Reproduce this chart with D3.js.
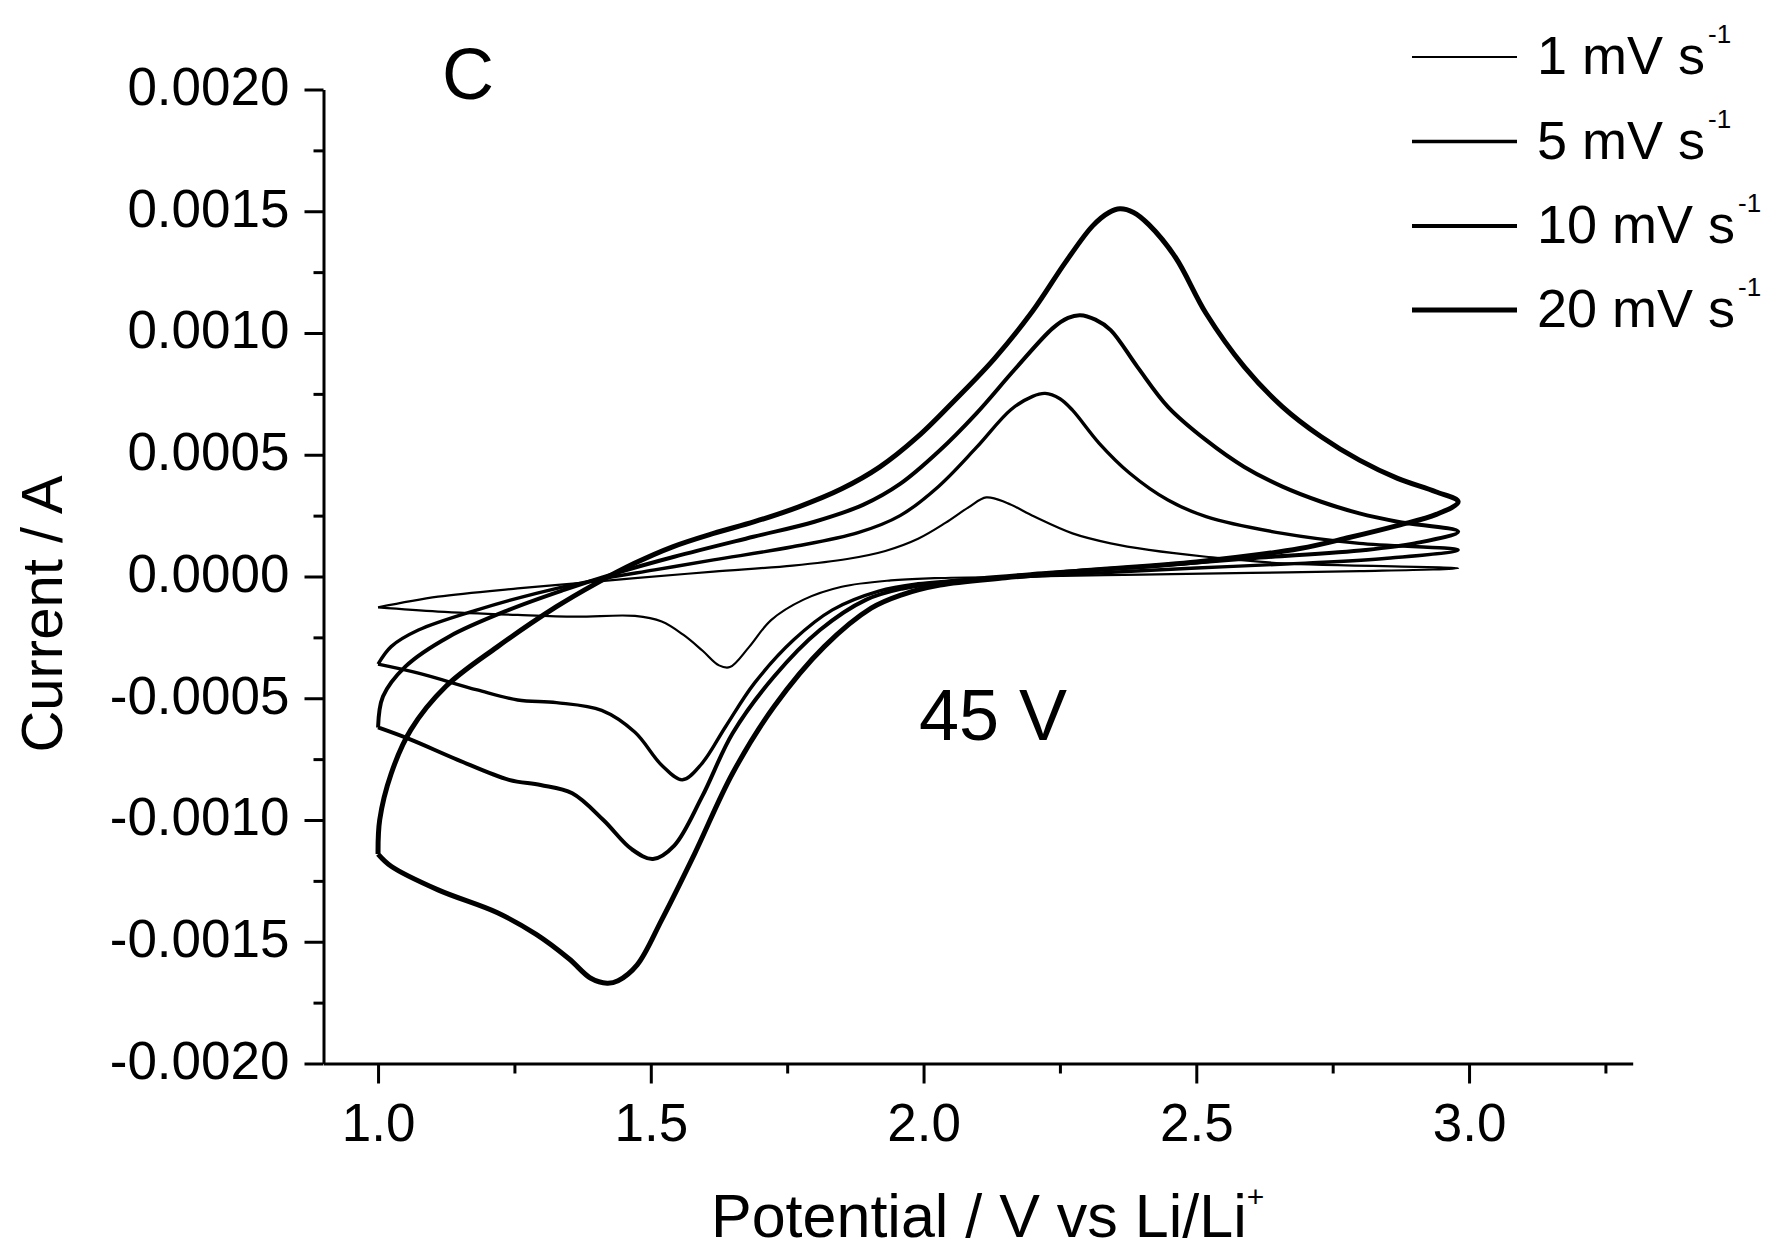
<!DOCTYPE html>
<html><head><meta charset="utf-8">
<script src="https://cdn.jsdelivr.net/npm/d3@7"></script>
<style>
body{margin:0;background:#fff}
svg{display:block;background:#fff}
text{font-family:"Liberation Sans", Arial, sans-serif;fill:#000}
</style>
</head><body>
<svg id="chart" width="1785" height="1252"></svg>
<script>
// ---- data: [potential (V vs Li/Li+), current (x1e-4 A)], traced as closed CV loops ----
const scanRates = ["1", "5", "10", "20"];

const cv1 = [
  [1.0,-1.27],[1.11,-0.83],[1.256,-0.49],[1.362,-0.28],[1.471,-0.07],[1.615,0.2],[1.76,0.45],[1.86,0.72],
  [1.93,1.05],[1.99,1.55],[2.04,2.2],[2.083,2.85],[2.115,3.25],[2.153,3.02],[2.203,2.46],[2.273,1.77],[2.343,1.36],
  [2.413,1.09],[2.518,0.81],[2.658,0.54],[2.98,0.34],
  [2.8,0.22],[2.6,0.15],[2.4,0.08],[2.2,0.0],[2.02,-0.07],[1.94,-0.16],[1.85,-0.42],[1.78,-0.95],
  [1.72,-1.8],[1.68,-2.9],[1.645,-3.72],[1.625,-3.65],[1.595,-3.05],[1.56,-2.4],[1.52,-1.85],[1.471,-1.62],[1.362,-1.65],
  [1.256,-1.58],[1.11,-1.44],[1.0,-1.27]
];
const cv5 = [
  [1.0,-3.6],[1.024,-2.88],[1.074,-2.2],[1.182,-1.37],[1.29,-0.69],[1.4,-0.14],[1.507,0.27],[1.615,0.68],
  [1.76,1.22],[1.88,1.8],[1.957,2.5],[2.027,3.69],[2.097,5.3],[2.16,6.85],[2.2,7.4],[2.223,7.52],
  [2.25,7.3],[2.273,6.83],[2.322,5.47],[2.378,4.24],[2.448,3.14],[2.518,2.46],[2.658,1.77],[2.799,1.36],[2.98,1.09],
  [2.85,0.75],[2.7,0.55],[2.5,0.35],[2.3,0.12],[2.1,-0.1],[1.99,-0.3],[1.918,-0.6],[1.833,-1.37],
  [1.762,-2.6],[1.69,-4.38],[1.637,-6.17],[1.594,-7.67],[1.558,-8.35],[1.52,-7.75],[1.471,-6.4],[1.41,-5.5],
  [1.327,-5.18],[1.256,-5.07],[1.182,-4.66],[1.074,-3.97],[1.0,-3.6]
];
const cv10 = [
  [1.0,-6.2],[1.009,-4.93],[1.05,-3.7],[1.13,-2.47],[1.24,-1.37],[1.341,-0.55],[1.435,0.13],[1.543,0.81],
  [1.688,1.63],[1.8,2.25],[1.89,2.95],[1.957,3.8],[2.027,5.12],[2.097,6.7],[2.167,8.5],[2.237,10.2],
  [2.265,10.62],[2.287,10.73],[2.315,10.55],[2.343,10.12],[2.392,8.61],[2.448,6.97],[2.518,5.6],[2.588,4.5],
  [2.658,3.69],[2.729,3.07],[2.799,2.59],[2.869,2.25],[2.98,1.84],
  [2.9,1.36],[2.81,1.09],[2.6,0.75],[2.4,0.4],[2.2,0.1],[2.05,-0.2],[1.96,-0.5],[1.895,-0.95],[1.81,-2.2],
  [1.726,-4.11],[1.65,-6.44],[1.594,-9.04],[1.543,-11.05],[1.504,-11.6],[1.465,-11.2],[1.413,-10.0],
  [1.356,-8.9],[1.298,-8.56],[1.24,-8.35],[1.146,-7.53],[1.06,-6.7],[1.0,-6.2]
];
const cv20 = [
  [1.0,-11.4],[1.003,-10.0],[1.024,-8.1],[1.06,-6.3],[1.125,-4.5],[1.218,-2.9],[1.327,-1.24],[1.4,-0.28],
  [1.47,0.54],[1.54,1.22],[1.615,1.77],[1.69,2.25],[1.77,2.85],[1.85,3.6],[1.92,4.5],[1.99,5.75],[2.06,7.3],
  [2.13,8.95],[2.2,10.9],[2.26,12.9],[2.31,14.4],[2.34,14.95],[2.36,15.1],[2.385,14.95],[2.413,14.45],
  [2.462,13.1],[2.518,10.8],[2.588,8.61],[2.658,6.97],[2.729,5.74],[2.799,4.78],[2.869,4.03],[2.939,3.48],[2.98,3.07],
  [2.94,2.55],[2.87,2.1],[2.78,1.6],[2.69,1.15],[2.5,0.6],[2.3,0.25],[2.15,-0.05],[2.03,-0.35],[1.96,-0.75],
  [1.904,-1.3],[1.818,-2.88],[1.726,-5.34],[1.65,-8.08],[1.58,-11.4],[1.52,-14.1],[1.475,-15.95],[1.44,-16.6],[1.42,-16.7],
  [1.39,-16.5],[1.35,-15.7],[1.29,-14.7],[1.218,-13.8],[1.11,-12.87],[1.024,-11.9],[1.0,-11.4]
];
const currentUnit = 1e-4;

const xMajorTicks = [1.0, 1.5, 2.0, 2.5, 3.0];
const xMinorTicks = [1.25, 1.75, 2.25, 2.75, 3.25];
const yMajorTicks = [-0.002, -0.0015, -0.001, -0.0005, 0, 0.0005, 0.001, 0.0015, 0.002];
const yMinorTicks = [-0.00175, -0.00125, -0.00075, -0.00025, 0.00025, 0.00075, 0.00125, 0.00175];

const xTitle = "Potential / V vs Li/Li";
const xTitleSup = "+";
const yTitle = "Current / A";
const panelLabel = "C";
const noteLabel = "45 V";

// ---- drawing ----
const series = [cv1, cv5, cv10, cv20];
const widths = [2.2, 3.4, 4.0, 5.0];

const svg = d3.select("#chart");
const x = d3.scaleLinear().domain([0.9, 3.3]).range([323.5, 1632.7]);
const y = d3.scaleLinear().domain([-0.002, 0.002]).range([1063.5, 89.5]);
const FONT = '"Liberation Sans", Arial, sans-serif';

// curves
const line = d3.line()
  .x(d => x(d[0]))
  .y(d => y(d[1] * currentUnit))
  .curve(d3.curveCatmullRom.alpha(0.5));

svg.append("g").selectAll("path")
  .data(series)
  .join("path")
  .attr("d", d => line(d))
  .attr("fill", "none")
  .attr("stroke", "#000")
  .attr("stroke-linejoin", "round")
  .attr("stroke-width", (d, i) => widths[i]);

// axes
const axisY = svg.append("g").attr("transform", `translate(${x(0.9)},0)`)
  .call(d3.axisLeft(y).tickValues(yMajorTicks).tickSize(19).tickSizeOuter(0).tickPadding(15)
    .tickFormat(d => d.toFixed(4)));
svg.append("g").attr("transform", `translate(${x(0.9)},0)`)
  .call(d3.axisLeft(y).tickValues(yMinorTicks).tickSize(10).tickSizeOuter(0).tickFormat(""))
  .select(".domain").remove();

const axisX = svg.append("g").attr("transform", `translate(0,${y(-0.002)})`)
  .call(d3.axisBottom(x).tickValues(xMajorTicks).tickSize(20).tickSizeOuter(0).tickPadding(20)
    .tickFormat(d => d.toFixed(1)));
svg.append("g").attr("transform", `translate(0,${y(-0.002)})`)
  .call(d3.axisBottom(x).tickValues(xMinorTicks).tickSize(10).tickSizeOuter(0).tickFormat(""))
  .select(".domain").remove();

svg.selectAll(".domain, .tick line").attr("stroke", "#000").attr("stroke-width", 3);
svg.selectAll(".tick text").attr("font-size", 53).attr("font-family", FONT).attr("fill", "#000");
axisY.selectAll(".tick text").attr("dy", "0.28em");

// axis titles
svg.append("text")
  .attr("transform", "translate(62,614) rotate(-90)")
  .attr("text-anchor", "middle")
  .attr("font-size", 58)
  .text(yTitle);

const xt = svg.append("text")
  .attr("x", 711).attr("y", 1237)
  .attr("font-size", 61);
xt.append("tspan").text(xTitle);
xt.append("tspan").attr("dy", -30).attr("font-size", 30).text(xTitleSup);

// annotations
svg.append("text").attr("x", 442).attr("y", 99).attr("font-size", 72).text(panelLabel);
svg.append("text").attr("x", 919).attr("y", 740).attr("font-size", 72).text(noteLabel);

// legend
const legendY = [57, 141.5, 226, 310];
const lg = svg.append("g");
scanRates.forEach((r, i) => {
  lg.append("line")
    .attr("x1", 1412).attr("x2", 1517)
    .attr("y1", legendY[i]).attr("y2", legendY[i])
    .attr("stroke", "#000").attr("stroke-width", widths[i]);
  const t = lg.append("text").attr("x", 1537).attr("y", legendY[i] + 17).attr("font-size", 54);
  t.append("tspan").text(r + " mV s");
  t.append("tspan").attr("dx", 3).attr("dy", -31).attr("font-size", 26).text("-1");
});
</script>
</body></html>
